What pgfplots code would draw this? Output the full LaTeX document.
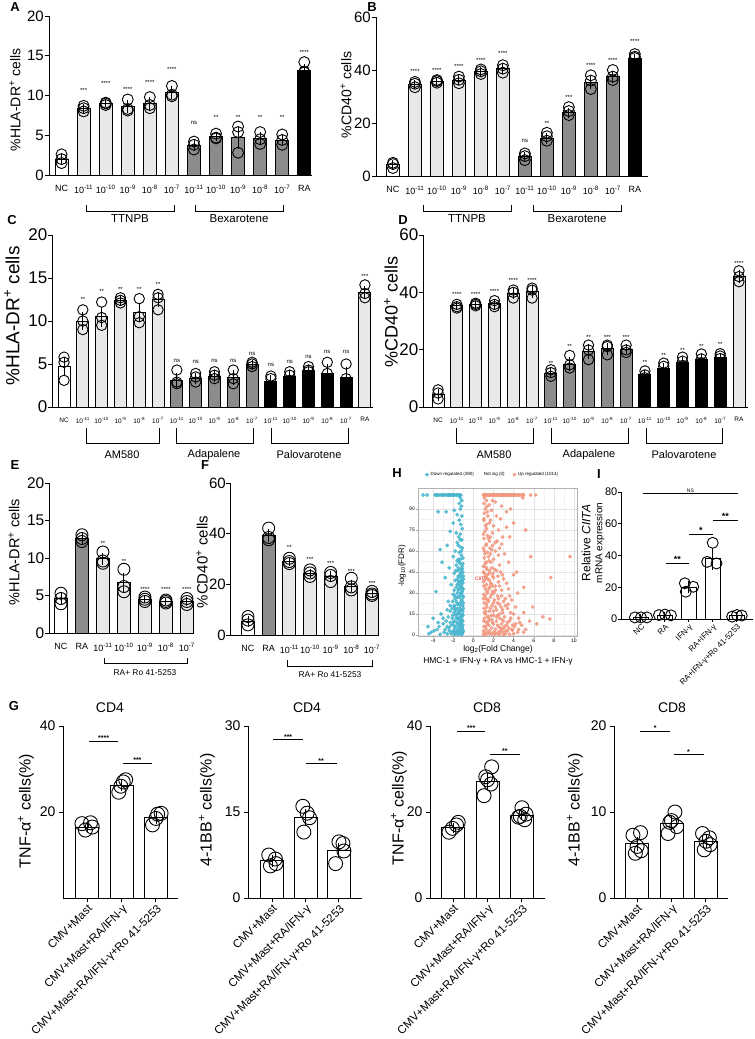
\documentclass[border=0pt]{standalone}
\usepackage{fontspec}
\setmainfont{Liberation Sans}
\usepackage{pgfplots}
\pgfplotsset{compat=1.18}
\definecolor{lg}{RGB}{232,232,232}
\definecolor{mg}{RGB}{140,140,140}
\definecolor{hb}{RGB}{72,182,206}
\definecolor{ho}{RGB}{242,152,128}
\newcommand\fs[1]{\fontsize{#1bp}{#1bp}\selectfont}
\newcommand\ex[1]{10\textsuperscript{-#1}}
\newcommand\st[3]{\node[font=\fs{6}, inner sep=0pt] at (axis cs:#1,#2) {#3};}
\newcommand\brk[4]{\draw[line width=0.9bp] (#1bp,-#3bp) -- (#1bp,-#4bp) -- (#2bp,-#4bp) -- (#2bp,-#3bp);}
\newcommand\lab[4]{\node[font=\fs{#4}, inner sep=0pt] at (#1bp,-#2bp) {#3};}
\newcommand\sig[5]{\draw[line width=0.9bp] (axis cs:#1,#3) -- (axis cs:#2,#3); \node[font=\bfseries\fs{#5}, inner sep=0pt, anchor=south] at (axis cs:{(#1+#2)/2},#3) {#4};}
\pgfplotsset{
  gp/.style={scale only axis, clip=false, axis x line*=bottom, axis y line*=left,
    axis line style={line width=1bp, black, -}, tick style={line width=1bp, black},
    tick align=outside, major tick length=4bp, ymin=0, anchor=south west,
    /pgf/number format/assume math mode=true},
  gbar/.style={ybar, bar shift=0pt, draw=black, line width=0.9bp,
    /pgfplots/error bars/y dir=both, /pgfplots/error bars/y explicit,
    /pgfplots/error bars/error bar style={line width=0.9bp, black},
    /pgfplots/error bars/error mark options={line width=0.9bp, black, mark size=3bp}},
  gdot/.style={only marks, mark=o, mark size=#1, mark options={line width=0.9bp, black}},
}
\begin{document}
\begin{tikzpicture}
\path[use as bounding box] (0,0) rectangle (755bp,-1039bp);
% ---------------- A ----------------
\begin{axis}[gp, at={(49bp,-175bp)}, width=263bp, height=159bp,
  xmin=-0.57, xmax=11.35, ymax=20, ytick={0,5,10,15,20},
  xtick={0,...,11}, xticklabels={NC,\ex{11},\ex{10},\ex9,\ex8,\ex7,\ex{11},\ex{10},\ex9,\ex8,\ex7,RA},
  xtick style={draw=none}, xticklabel style={font=\fs{9}, yshift=-3bp}, yticklabel style={font=\fs{15}, inner sep=1bp}]
\addplot[gbar, fill=white, bar width=13bp] coordinates {(0,2.0) +- (0,0.3)};
\addplot[gbar, fill=lg, bar width=13bp] coordinates {(1,8.4) +- (0,0.2) (2,9.0) +- (0,0.1) (3,8.6) +- (0,0.4) (4,9.0) +- (0,0.4) (5,10.4) +- (0,0.4)};
\addplot[gbar, fill=mg, bar width=13bp] coordinates {(6,3.7) +- (0,0.3) (7,4.8) +- (0,0.2) (8,4.7) +- (0,1.0) (9,4.6) +- (0,0.4) (10,4.4) +- (0,0.4)};
\addplot[gbar, fill=black, bar width=13bp] coordinates {(11,13.2) +- (0,0.4)};
\addplot[gdot=5.5bp] coordinates {(0,2.6)(0,1.5)(0,2.0)(1,8.7)(1,8.0)(1,8.4)(2,9.1)(2,8.8)(2,9.0)(3,9.5)(3,8.1)(3,8.3)(4,9.8)(4,8.4)(4,8.8)(5,11.2)(5,10.1)(5,9.9)(6,4.2)(6,3.8)(6,3.2)(7,5.2)(7,4.7)(7,4.6)(8,6.1)(8,5.4)(8,2.8)(9,5.4)(9,4.5)(9,3.9)(10,5.1)(10,4.4)(10,3.8)(11,14.2)(11,13.0)(11,12.9)};
\st{1}{10.7}{***}\st{2}{11.5}{****}\st{3}{10.8}{****}\st{4}{11.7}{****}\st{5}{13.3}{****}
\st{6}{6.5}{ns}\st{7}{7.3}{**}\st{8}{7.3}{**}\st{9}{7.3}{**}\st{10}{7.3}{**}\st{11}{15.4}{****}
\end{axis}
% ---------------- B ----------------
\begin{axis}[gp, at={(376bp,-176bp)}, width=272bp, height=159bp,
  xmin=-0.77, xmax=11.6, ymax=60, ytick={0,20,40,60},
  xtick={0,...,11}, xticklabels={NC,\ex{11},\ex{10},\ex9,\ex8,\ex7,\ex{11},\ex{10},\ex9,\ex8,\ex7,RA},
  xtick style={draw=none}, xticklabel style={font=\fs{9}, yshift=-3bp}, yticklabel style={font=\fs{15}, inner sep=1bp}]
\addplot[gbar, fill=white, bar width=13bp] coordinates {(0,4.2) +- (0,0.7)};
\addplot[gbar, fill=lg, bar width=13bp] coordinates {(1,34.5) +- (0,0.7) (2,35.6) +- (0,0.4) (3,36.2) +- (0,0.7) (4,39.3) +- (0,0.6) (5,40.4) +- (0,0.8)};
\addplot[gbar, fill=mg, bar width=13bp] coordinates {(6,7.4) +- (0,0.7) (7,14.2) +- (0,0.9) (8,23.8) +- (0,0.9) (9,35.2) +- (0,1.4) (10,37.5) +- (0,1.1)};
\addplot[gbar, fill=black, bar width=13bp] coordinates {(11,44.4) +- (0,0.5)};
\addplot[gdot=5.5bp] coordinates {(0,5.0)(0,3.0)(0,4.5)(1,35.5)(1,33.5)(1,34.8)(2,36.2)(2,35.2)(2,35.8)(3,37.5)(3,35.0)(3,36.3)(4,40.2)(4,38.5)(4,39.5)(5,41.8)(5,39.0)(5,40.5)(6,8.5)(6,6.0)(6,7.5)(7,16.3)(7,13.3)(7,15.0)(8,26.0)(8,23.0)(8,24.5)(9,38.0)(9,32.8)(9,36.0)(10,40.0)(10,36.2)(10,37.5)(11,46.0)(11,45.0)(11,44.5)};
\st{1}{39.5}{****}\st{2}{39.8}{****}\st{3}{41.4}{****}\st{4}{43.6}{****}\st{5}{46.2}{****}
\st{6}{13.4}{ns}\st{7}{19.9}{**}\st{8}{29.8}{***}\st{9}{41.6}{****}\st{10}{43.6}{****}\st{11}{50.8}{****}
\end{axis}
% ---------------- C ----------------
\begin{axis}[gp, at={(52bp,-407bp)}, width=321bp, height=172bp,
  xmin=-0.64, xmax=16.43, ymax=20, ytick={0,5,10,15,20},
  xtick={0,...,16}, xticklabels={NC,\ex{11},\ex{10},\ex9,\ex8,\ex7,\ex{11},\ex{10},\ex9,\ex8,\ex7,\ex{11},\ex{10},\ex9,\ex8,\ex7,RA},
  xtick style={draw=none}, xticklabel style={font=\fs{6.5}, yshift=-3bp}, yticklabel style={font=\fs{17}, inner sep=0.5bp}]
\addplot[gbar, fill=white, bar width=12bp] coordinates {(0,4.7) +- (0,0.8)};
\addplot[gbar, fill=lg, bar width=12bp] coordinates {(1,10.0) +- (0,0.7) (2,10.5) +- (0,0.8) (3,12.4) +- (0,0.2) (4,11.0) +- (0,0.8) (5,12.5) +- (0,0.5)};
\addplot[gbar, fill=mg, bar width=12bp] coordinates {(6,3.1) +- (0,0.5) (7,3.3) +- (0,0.3) (8,3.6) +- (0,0.3) (9,3.4) +- (0,0.5) (10,4.9) +- (0,0.2)};
\addplot[gbar, fill=black, bar width=12bp] coordinates {(11,3.0) +- (0,0.4) (12,3.6) +- (0,0.3) (13,4.3) +- (0,0.2) (14,3.9) +- (0,0.7) (15,3.4) +- (0,0.9)};
\addplot[gbar, fill=lg, bar width=12bp] coordinates {(16,13.3) +- (0,0.4)};
\addplot[gdot=5.2bp] coordinates {(0,5.8)(0,5.2)(0,3.1)(1,11.3)(1,10.0)(1,9.0)(2,12.2)(2,10.4)(2,9.5)(3,12.7)(3,12.1)(3,12.4)(4,12.6)(4,10.5)(4,9.8)(5,13.1)(5,12.7)(5,11.3)(6,4.3)(6,2.9)(6,2.7)(7,3.9)(7,3.5)(7,2.9)(8,4.1)(8,3.7)(8,3.3)(9,4.3)(9,3.3)(9,2.7)(10,5.2)(10,5.0)(10,4.7)(11,3.6)(11,3.3)(11,2.3)(12,4.1)(12,3.7)(12,3.1)(13,4.7)(13,4.3)(13,4.1)(14,5.2)(14,3.9)(14,2.7)(15,5.0)(15,3.3)(15,2.1)(16,14.2)(16,13.2)(16,12.7)};
\st{1}{12.5}{**}\st{2}{13.4}{**}\st{3}{13.7}{**}\st{4}{13.7}{**}\st{5}{14.3}{**}
\st{6}{5.4}{ns}\st{7}{5.2}{ns}\st{8}{5.4}{ns}\st{9}{5.4}{ns}\st{10}{6.2}{ns}
\st{11}{4.9}{ns}\st{12}{5.2}{ns}\st{13}{5.8}{ns}\st{14}{6.4}{ns}\st{15}{6.4}{ns}\st{16}{15.2}{***}
\end{axis}
% ---------------- D ----------------
\begin{axis}[gp, at={(423bp,-407bp)}, width=325bp, height=172bp,
  xmin=-0.8, xmax=16.48, ymax=60, ytick={0,20,40,60},
  xtick={0,...,16}, xticklabels={NC,\ex{11},\ex{10},\ex9,\ex8,\ex7,\ex{11},\ex{10},\ex9,\ex8,\ex7,\ex{11},\ex{10},\ex9,\ex8,\ex7,RA},
  xtick style={draw=none}, xticklabel style={font=\fs{6.5}, yshift=-3bp}, yticklabel style={font=\fs{17}, inner sep=0.5bp}]
\addplot[gbar, fill=white, bar width=12bp] coordinates {(0,4.3) +- (0,1.0)};
\addplot[gbar, fill=lg, bar width=12bp] coordinates {(1,35.3) +- (0,0.4) (2,35.8) +- (0,0.3) (3,36.0) +- (0,0.6) (4,39.5) +- (0,0.8) (5,40.3) +- (0,1.1)};
\addplot[gbar, fill=mg, bar width=12bp] coordinates {(6,11.8) +- (0,0.6) (7,15.0) +- (0,1.3) (8,19.3) +- (0,1.5) (9,20.3) +- (0,1.0) (10,20.2) +- (0,0.8)};
\addplot[gbar, fill=black, bar width=12bp] coordinates {(11,11.3) +- (0,0.7) (12,13.6) +- (0,0.8) (13,15.6) +- (0,0.8) (14,16.6) +- (0,0.7) (15,17.2) +- (0,0.6)};
\addplot[gbar, fill=lg, bar width=12bp] coordinates {(16,45.5) +- (0,1.1)};
\addplot[gdot=5.2bp] coordinates {(0,6.0)(0,4.9)(0,2.8)(1,35.8)(1,35.0)(1,34.5)(2,36.2)(2,35.8)(2,35.3)(3,37.1)(3,35.8)(3,35.0)(4,40.8)(4,40.0)(4,38.0)(5,41.5)(5,40.8)(5,38.0)(6,13.0)(6,12.0)(6,10.7)(7,18.0)(7,14.7)(7,13.6)(8,21.6)(8,19.9)(8,16.5)(9,21.6)(9,21.1)(9,18.2)(10,21.6)(10,19.9)(10,19.0)(11,12.6)(11,11.2)(11,10.2)(12,15.3)(12,14.2)(12,11.5)(13,17.4)(13,16.0)(13,14.5)(14,18.5)(14,16.8)(14,15.5)(15,18.6)(15,17.8)(15,16.9)(16,47.5)(16,45.5)(16,43.7)};
\st{1}{39.1}{****}\st{2}{39.1}{****}\st{3}{40.3}{****}\st{4}{44.0}{****}\st{5}{44.0}{****}
\st{6}{15.3}{**}\st{7}{21.1}{**}\st{8}{24.2}{**}\st{9}{24.2}{***}\st{10}{24.2}{***}
\st{11}{15.5}{**}\st{12}{18.0}{**}\st{13}{19.9}{**}\st{14}{21.1}{**}\st{15}{21.7}{**}\st{16}{50.1}{****}
\end{axis}
% ---------------- E ----------------
\begin{axis}[gp, at={(49bp,-633bp)}, width=144bp, height=150bp,
  xmin=-0.57, xmax=6.29, ymax=20, ytick={0,5,10,15,20},
  xtick={0,...,6}, xticklabels={NC,RA,\ex{11},\ex{10},\ex9,\ex8,\ex7},
  xtick style={draw=none}, xticklabel style={font=\fs{9}, yshift=-3bp}, yticklabel style={font=\fs{15.5}, inner sep=0.5bp}]
\addplot[gbar, fill=white, bar width=13bp] coordinates {(0,4.6) +- (0,0.4)};
\addplot[gbar, fill=mg, bar width=13bp] coordinates {(1,12.6) +- (0,0.3)};
\addplot[gbar, fill=lg, bar width=13bp] coordinates {(2,9.9) +- (0,0.4) (3,6.7) +- (0,0.9) (4,4.5) +- (0,0.15) (5,4.2) +- (0,0.1) (6,4.2) +- (0,0.2)};
\addplot[gdot=6bp] coordinates {(0,5.3)(0,4.6)(0,3.9)(1,13.1)(1,12.6)(1,12.2)(2,10.8)(2,9.6)(2,9.3)(3,8.5)(3,6.2)(3,5.5)(4,4.8)(4,4.5)(4,4.2)(5,4.4)(5,4.2)(5,4.0)(6,4.6)(6,4.2)(6,3.8)};
\st{2}{12.0}{**}\st{3}{9.6}{**}\st{4}{5.8}{****}\st{5}{5.8}{****}\st{6}{5.8}{****}
\end{axis}
% ---------------- F ----------------
\begin{axis}[gp, at={(230bp,-635bp)}, width=148bp, height=152bp,
  xmin=-0.87, xmax=6.29, ymax=60, ytick={0,20,40,60},
  xtick={0,...,6}, xticklabels={NC,RA,\ex{11},\ex{10},\ex9,\ex8,\ex7},
  xtick style={draw=none}, xticklabel style={font=\fs{9}, yshift=-3bp}, yticklabel style={font=\fs{15}, inner sep=0bp}]
\addplot[gbar, fill=white, bar width=13bp] coordinates {(0,5.3) +- (0,1.0)};
\addplot[gbar, fill=mg, bar width=13bp] coordinates {(1,39.2) +- (0,1.4)};
\addplot[gbar, fill=lg, bar width=13bp] coordinates {(2,29.0) +- (0,0.6) (3,24.3) +- (0,0.7) (4,23.0) +- (0,1.0) (5,19.3) +- (0,1.3) (6,16.3) +- (0,0.4)};
\addplot[gdot=6bp] coordinates {(0,7.3)(0,5.9)(0,4.0)(1,42.2)(1,38.5)(1,37.6)(2,30.3)(2,29.0)(2,28.2)(3,25.7)(3,24.5)(3,23.1)(4,24.7)(4,23.5)(4,21.1)(5,22.4)(5,19.0)(5,17.8)(6,17.2)(6,16.2)(6,15.6)};
\st{2}{34.7}{**}\st{3}{30.0}{***}\st{4}{28.1}{***}\st{5}{25.1}{***}\st{6}{20.4}{***}
\end{axis}
% ---------------- H ----------------
\begin{axis}[scale only axis, anchor=south west, at={(418bp,-636bp)}, width=159bp, height=148bp,
  xmin=-5.5, xmax=10.3, ymin=-0.7, ymax=105,
  axis line style={gray!60, line width=0.6bp},
  xtick={-4,-2,...,10}, ytick={0,15,...,90}, minor x tick num=1, minor y tick num=1,
  grid=both, major grid style={gray!22, line width=0.4bp}, minor grid style={gray!10, line width=0.3bp},
  tick style={gray!70, line width=0.4bp}, major tick length=2bp, minor tick length=0pt, tick align=outside,
  tick pos=left, ticklabel style={font=\fs{5}, inner sep=1bp},
  /pgf/number format/assume math mode=true,
  legend columns=3, legend style={at={(0.47,1.06)}, anchor=south, draw=none, fill=none, font=\fs{4.5}, inner sep=0pt, /tikz/every even column/.append style={column sep=6bp}},
  legend cell align=left]
\addplot[only marks, mark=*, mark size=1.7bp, color=hb, mark options={draw=none, fill=hb, fill opacity=0.85}] coordinates {
(-5.0,100)(-4.6,100)(-3.8,100)(-3.6,100)(-3.4,100)(-3.2,100)(-3.0,100)(-2.8,100)(-2.6,100)(-2.45,100)(-2.3,100)(-2.15,100)(-2.0,100)(-1.85,100)(-1.7,100)(-1.55,100)(-1.4,100)(-1.25,100)
(-2.55,100)(-2.35,100)(-2.05,100)(-1.9,100)(-1.6,100)(-1.45,100)(-1.3,100)(-3.7,100)(-3.1,100)
(-1.3,98)(-1.15,96)(-1.4,94)(-1.2,92)(-3.5,88)(-2.7,88)(-1.9,89)(-1.3,90)(-1.6,86)(-1.15,85)(-1.4,82)(-2.0,80)(-1.25,79)(-1.1,76)(-2.3,74)(-1.7,73)(-1.3,72)(-1.45,70)(-1.15,68)(-1.6,66)(-2.6,64)(-1.3,63)(-1.1,62)(-3.3,61)(-1.8,60)(-1.4,59)(-1.2,57)(-2.0,56)(-1.05,55)(-1.5,54)(-3.1,52)(-1.3,51)(-1.7,50)(-1.1,49)(-2.4,48)(-1.25,47)(-1.55,46)(-1.05,45)(-1.9,44)(-1.35,43)(-1.15,42)(-2.8,41)(-1.6,40)(-1.2,39)(-1.45,38)(-1.05,37)(-2.2,36)(-1.3,35)(-1.7,34)(-1.1,33)(-1.5,32)(-3.7,31)(-1.25,30)(-2.0,29)(-1.05,28)(-1.4,27)(-1.8,26)(-1.15,25)(-2.5,24)(-1.3,23)(-1.6,22)(-1.05,21)(-1.9,20)(-1.35,19)(-1.15,18)(-2.3,17)(-1.5,16)(-3.2,15)(-1.1,15)(-1.75,14)(-1.25,13)(-4.0,12)(-2.1,12)(-1.45,11)(-1.05,10)(-2.7,10)(-1.65,9)(-1.2,8)(-3.0,8)(-1.95,7)(-1.4,6)(-1.1,5)(-2.4,5)(-3.6,4)(-1.6,4)(-1.25,3)(-2.0,3)(-4.2,2)(-2.9,2)(-1.8,2)(-1.35,1.5)(-1.1,1)(-2.2,1)(-1.5,0.5)(-3.3,0.5)(-2.6,0.8)(-1.9,0.3)(-1.2,0.2)(-4.4,1)(-3.9,3)(-2.3,9)(-1.55,27)(-1.35,33)(-1.2,44)(-1.6,53)(-1.3,41)(-1.1,38)(-1.25,21)(-1.45,17)(-1.7,12)(-1.15,11)(-2.5,13)(-1.8,18)(-1.05,14)(-1.9,10)(-1.35,7)(-1.5,3)(-1.05,2)
(-1.0,3)(-1.15,6)(-1.3,9)(-1.45,12)(-1.6,15)(-1.75,18)(-1.9,21)(-2.05,24)(-1.0,27)(-1.2,30)(-1.4,33)(-1.6,36)(-1.8,39)(-1.0,42)(-1.25,45)(-1.5,48)(-1.05,51)(-1.3,54)(-2.1,2)(-1.7,1)(-2.4,3)(-2.6,6)(-2.0,9)(-1.55,8)(-1.25,5)(-1.05,7)(-1.85,5)(-2.2,7)(-1.65,2.5)(-1.35,4)(-1.15,13)(-1.4,15)(-1.6,19)(-1.9,16)(-2.1,19)(-1.3,17)(-1.05,17)(-1.2,25)(-1.5,22)(-1.7,24)(-1.35,28)(-1.6,30)(-1.9,32)(-1.1,31)(-1.3,38)(-1.5,42)(-1.75,46)(-1.1,47)(-1.4,52)(-1.2,60)(-1.5,64)(-1.3,68)(-3.4,6)(-2.8,4)(-3.0,12)(-2.3,21)(-2.6,18)(-4.5,6)(-3.5,9)(-2.05,14)(-1.0,19)(-1.0,23)(-1.0,33)(-1.0,40)(-1.2,35)(-1.45,36)(-1.85,28)(-1.55,12)(-1.25,10)(-1.75,6)
};
\addlegendentry{Down regulated (490)}
\addlegendimage{empty legend}
\addlegendentry{Not sig (0)}
\addplot[only marks, mark=*, mark size=1.7bp, color=ho, mark options={draw=none, fill=ho, fill opacity=0.85}] coordinates {
(1.0,100)(1.15,100)(1.3,100)(1.45,100)(1.6,100)(1.75,100)(1.9,100)(2.05,100)(2.2,100)(2.35,100)(2.5,100)(2.7,100)(2.9,100)(3.1,100)(3.3,100)(3.5,100)(3.7,100)(3.9,100)(4.1,100)(4.35,100)(4.6,100)(4.9,100)(5.7,100)(6.2,100)
(1.08,100)(1.22,100)(1.38,100)(1.53,100)(1.68,100)(1.83,100)(1.98,100)(2.13,100)(2.28,100)(2.43,100)(2.6,100)(2.8,100)(3.0,100)(3.2,100)(3.4,100)(3.6,100)(3.8,100)(4.0,100)(4.2,100)(4.5,100)(4.75,100)(5.0,100)
(1.1,98)(1.3,96)(1.05,94)(1.6,93)(2.2,95)(2.8,92)(1.2,90)(1.8,89)(3.3,88)(4.9,98)(1.1,87)(1.45,85)(2.3,85)(1.05,83)(1.7,82)(4.0,80)(1.3,79)(3.3,77)(2.5,75)(5.2,75)(1.15,74)(1.9,73)(1.4,71)(2.9,70)(1.05,69)(1.6,67)(2.2,66)(2.8,65)(1.25,64)(1.0,62)(1.8,61)(3.1,58)(1.4,59)(2.5,57)(5.7,56)(9.6,56)(1.1,55)(2.0,54)(1.55,53)(3.5,52)(1.2,51)(2.6,50)(1.05,49)(1.8,48)(1.35,47)(2.3,46)(4.3,45)(1.0,45)(1.6,44)(4.0,43)(2.9,43)(1.25,42)(2.0,41)(7.7,41)(1.45,40)(1.1,39)(2.5,38)(1.75,37)(3.3,37)(1.3,36)(1.05,35)(2.2,35)(5.0,34)(1.6,34)(1.2,33)(2.8,32)(1.9,31)(1.4,30)(4.4,30)(1.05,29)(3.6,28)(2.4,28)(1.7,27)(1.25,26)(2.1,25)(3.0,24)(1.5,24)(1.1,23)(2.6,22)(1.85,21)(1.35,20)(5.9,20)(3.4,19)(1.05,19)(2.3,18)(1.6,17)(2.9,16)(5.0,16)(1.2,15)(4.0,15)(2.0,14)(1.4,13)(3.1,13)(6.9,13)(2.6,12)(7.6,11.5)(1.1,12)(1.8,11)(3.6,10)(2.3,10)(1.3,9)(4.6,9)(2.0,8)(2.8,8)(1.55,7)(3.3,7)(1.05,6)(2.5,6)(4.1,6)(1.8,5)(3.0,5)(1.3,4)(2.2,4)(3.8,4)(1.6,3)(2.7,3)(3.4,3)(1.1,2)(2.0,2)(2.9,2)(4.4,2)(1.4,1.5)(2.4,1)(3.2,1)(1.8,0.8)(1.0,0.5)(2.6,0.4)(3.6,0.6)(1.2,0.2)(2.1,0.3)(3.0,0.2)(4.0,1)(1.5,10)(1.9,35)(1.15,58)(2.2,60)(1.7,70)(1.3,76)(3.9,3.5)(2.4,14)(2.75,20)(3.2,26)(1.95,44)(1.65,62)(2.45,42)(3.7,16)(4.8,7)(1.25,17)(2.85,11)(1.45,25)(2.05,30)(1.05,10)(3.45,22)(1.75,52)(2.35,67)
(1.0,3)(1.2,6)(1.4,8)(1.6,11)(1.8,14)(2.0,17)(2.2,20)(2.4,23)(1.0,26)(1.15,28)(1.35,31)(1.55,33)(1.75,36)(1.0,38)(1.2,41)(1.4,43)(1.6,46)(1.0,49)(1.25,52)(1.5,56)(1.1,60)(1.3,65)(1.5,69)(1.0,72)(1.2,78)(1.05,82)(1.4,88)(2.5,2)(2.8,4)(3.1,6)(3.4,9)(3.7,12)(2.6,15)(2.9,18)(3.2,21)(2.0,23)(2.5,26)(2.8,28)(1.8,29)(2.2,32)(2.6,35)(1.6,39)(1.9,42)(2.1,47)(2.7,45)(3.0,40)(3.5,33)(3.8,25)(4.2,20)(4.5,12)(4.2,8)(5.2,4)(5.6,10)(6.3,8)(3.9,7)(3.5,5)(3.2,3)(2.4,7)(1.9,9)(1.5,13)(1.1,16)(2.3,13)(1.7,19)(1.3,22)(3.0,10)(2.7,5)(2.2,1.5)(1.6,1)(4.5,4)(5.0,2)(1.1,44)(1.3,48)(1.7,58)(1.9,64)(2.6,62)(3.6,70)(2.0,78)(1.6,80)(2.7,83)(3.7,90)(1.35,92)(1.9,96)
};
\addlegendentry{Up regulated (1014)}
\node[font=\fs{5}, text=red, inner sep=0pt] at (axis cs:0.78,40) {CIITA};
\end{axis}
% ---------------- I ----------------
\begin{axis}[gp, at={(621bp,-619bp)}, width=132bp, height=127bp,
  xmin=-0.83, xmax=4.67, ymax=80, ytick={0,20,40,60,80},
  xtick={0,...,4}, xticklabels={NC,RA,IFN-γ,RA+IFN-γ,RA+IFN-γ+Ro 41-5253},
  major tick length=3bp,
  xticklabel style={rotate=45, anchor=north east, font=\fs{8}, inner sep=1bp}, yticklabel style={font=\fs{11}, inner sep=0.5bp}]
\addplot[gbar, fill=white, bar width=15bp] coordinates {(0,1.0) +- (0,0.1) (1,2.5) +- (0,0.3) (2,20.0) +- (0,1.8) (3,38.0) +- (0,5.0) (4,2.0) +- (0,0.5)};
\addplot[gdot=5.5bp] coordinates {(-0.25,1.0)(0,1.0)(0.25,1.0)(0.75,2.5)(1,2.8)(1.25,2.3)(1.83,22.5)(2.18,20.3)(1.87,17.2)(2.99,48)(2.76,36)(3.15,35)(3.8,1.5)(4.0,2.5)(4.2,2.2)};
\sig{0.08}{4.04}{79.4}{\mdseries\fs{5}NS}{5}
\sig{1.04}{2.0}{35.3}{**}{9}
\sig{2.0}{3.0}{53.5}{*}{9}
\sig{3.0}{4.04}{62.4}{**}{9}
\end{axis}
% ---------------- G1 ----------------
\begin{axis}[gp, at={(63bp,-898bp)}, width=115bp, height=172bp,
  xmin=-0.7, xmax=2.64, ymax=40, ytick={20,40},
  xtick={0,1,2}, xticklabels={CMV+Mast,CMV+Mast+RA/IFN-γ,CMV+Mast+RA/IFN-γ+Ro 41-5253},
  xticklabel style={rotate=45, anchor=north east, font=\fs{11.5}, inner sep=1bp}, yticklabel style={font=\fs{14}}]
\addplot[gbar, fill=white, bar width=23bp] coordinates {(0,16.5) +- (0,0.4) (1,26.2) +- (0,0.6) (2,18.7) +- (0,0.7)};
\addplot[gdot=7bp] coordinates {(-0.15,17.3)(0.1,17.5)(-0.05,15.8)(0.15,16.5)(0.92,24.6)(1.05,27.0)(1.12,27.5)(0.98,26.0)(1.9,17.0)(2.05,19.5)(2.15,19.7)(2.0,18.5)};
\sig{0.06}{0.9}{36.5}{****}{7}
\sig{1.04}{1.88}{31.4}{***}{7}
\end{axis}
% ---------------- G2 ----------------
\begin{axis}[gp, at={(248bp,-898bp)}, width=114bp, height=172bp,
  xmin=-0.72, xmax=2.69, ymax=30, ytick={0,15,30},
  xtick={0,1,2}, xticklabels={CMV+Mast,CMV+Mast+RA/IFN-γ,CMV+Mast+RA/IFN-γ+Ro 41-5253},
  xticklabel style={rotate=45, anchor=north east, font=\fs{11.5}, inner sep=1bp}, yticklabel style={font=\fs{14}}]
\addplot[gbar, fill=white, bar width=23bp] coordinates {(0,6.5) +- (0,0.5) (1,14.0) +- (0,1.0) (2,8.3) +- (0,0.8)};
\addplot[gdot=7bp] coordinates {(-0.1,7.5)(0.1,6.8)(-0.05,5.6)(0.12,6.0)(0.92,16.0)(1.05,14.8)(1.12,14.0)(0.95,11.5)(1.9,6.0)(2.0,9.8)(2.12,9.5)(2.15,8.2)};
\sig{0.03}{0.93}{27.6}{***}{7}
\sig{1.0}{1.94}{23.5}{**}{7}
\end{axis}
% ---------------- G3 ----------------
\begin{axis}[gp, at={(430bp,-898bp)}, width=115bp, height=172bp,
  xmin=-0.67, xmax=2.67, ymax=40, ytick={0,20,40},
  xtick={0,1,2}, xticklabels={CMV+Mast,CMV+Mast+RA/IFN-γ,CMV+Mast+RA/IFN-γ+Ro 41-5253},
  xticklabel style={rotate=45, anchor=north east, font=\fs{11.5}, inner sep=1bp}, yticklabel style={font=\fs{14}}]
\addplot[gbar, fill=white, bar width=23bp] coordinates {(0,16.3) +- (0,0.5) (1,27.2) +- (0,1.2) (2,19.3) +- (0,0.5)};
\addplot[gdot=7bp] coordinates {(-0.12,15.3)(0.1,17.0)(0.15,17.6)(-0.02,16.2)(0.9,23.8)(0.95,28.2)(1.12,30.5)(1.1,26.5)(1.0,27.5)(1.9,18.8)(2.0,21.0)(2.12,19.5)(2.08,18.2)(1.95,19.0)};
\sig{0.12}{0.93}{38.8}{***}{7}
\sig{1.07}{1.94}{33.5}{**}{7}
\end{axis}
% ---------------- G4 ----------------
\begin{axis}[gp, at={(614bp,-898bp)}, width=114bp, height=172bp,
  xmin=-0.67, xmax=2.64, ymax=20, ytick={0,10,20},
  xtick={0,1,2}, xticklabels={CMV+Mast,CMV+Mast+RA/IFN-γ,CMV+Mast+RA/IFN-γ+Ro 41-5253},
  xticklabel style={rotate=45, anchor=north east, font=\fs{11.5}, inner sep=1bp}, yticklabel style={font=\fs{14}}]
\addplot[gbar, fill=white, bar width=23bp] coordinates {(0,6.3) +- (0,0.5) (1,8.7) +- (0,0.5) (2,6.6) +- (0,0.4)};
\addplot[gdot=7bp] coordinates {(-0.12,7.3)(0.1,7.6)(-0.05,5.2)(0.12,5.5)(0.0,6.0)(0.9,7.5)(1.0,9.0)(1.1,10.0)(1.15,8.3)(0.95,8.8)(1.9,7.5)(2.1,7.0)(1.95,5.6)(2.12,6.2)(2.0,6.6)};
\sig{0.09}{0.96}{19.4}{*}{7}
\sig{1.06}{1.93}{16.7}{*}{7}
\end{axis}
% ---------------- annotations ----------------
\brk{86}{174}{205}{211}\brk{195}{283}{205}{211}
\lab{130}{219}{TTNPB}{11.5}\lab{239}{219}{Bexarotene}{11.5}
\brk{423}{511}{205}{211}\brk{533}{621}{205}{211}
\lab{467}{219}{TTNPB}{11.5}\lab{577}{219}{Bexarotene}{11.5}
\brk{86}{159}{428}{443}\brk{176}{253}{428}{443}\brk{271}{348}{428}{443}
\lab{122}{455}{AM580}{11}\lab{214}{455}{Adapalene}{11}\lab{309}{455}{Palovarotene}{11}
\brk{456}{533}{428}{443}\brk{551}{628}{428}{443}\brk{646}{722}{428}{443}
\lab{494}{455}{AM580}{11}\lab{589}{455}{Adapalene}{11}\lab{684}{455}{Palovarotene}{11}
\brk{104}{187}{658}{663}\lab{145}{673}{RA+ Ro 41-5253}{8.4}
\brk{287}{372}{660}{666}\lab{330}{675}{RA+ Ro 41-5253}{8.4}
% y labels
\node[rotate=90, font=\fs{14}] at (15bp,-100bp) {\%HLA-DR\textsuperscript{+} cells};
\node[rotate=90, font=\fs{14}] at (346bp,-95bp) {\%CD40\textsuperscript{+} cells};
\node[rotate=90, font=\fs{19}] at (12bp,-316bp) {\%HLA-DR\textsuperscript{+} cells};
\node[rotate=90, font=\fs{18}] at (391bp,-312bp) {\%CD40\textsuperscript{+} cells};
\node[rotate=90, font=\fs{14.5}] at (14bp,-552bp) {\%HLA-DR\textsuperscript{+} cells};
\node[rotate=90, font=\fs{15}] at (202bp,-562bp) {\%CD40\textsuperscript{+} cells};
\node[rotate=90, font=\fs{8}] at (402bp,-566bp) {-log\textsubscript{10}(FDR)};
\node[font=\fs{8.5}] at (498bp,-649bp) {log\textsubscript{2}(Fold Change)};
\node[font=\fs{8.5}] at (498bp,-661bp) {HMC-1 + IFN-γ + RA vs HMC-1 + IFN-γ};
\node[rotate=90, align=center, inner sep=0pt] at (593bp,-543bp) {\fontsize{12bp}{11bp}\selectfont Relative \textit{CIITA}\\mRNA expression};
\node[rotate=90, font=\fs{16}] at (26bp,-811bp) {TNF-α\textsuperscript{+} cells(\%)};
\node[rotate=90, font=\fs{16}] at (207bp,-810bp) {4-1BB\textsuperscript{+} cells(\%)};
\node[rotate=90, font=\fs{16}] at (399bp,-808bp) {TNF-α\textsuperscript{+} cells(\%)};
\node[rotate=90, font=\fs{16}] at (575bp,-810bp) {4-1BB\textsuperscript{+} cells(\%)};
% titles
\lab{110}{708}{CD4}{14}\lab{307}{708}{CD4}{14}\lab{487}{708}{CD8}{14}\lab{672}{708}{CD8}{14}
% panel letters
\node[font=\bfseries\fs{13}] at (15bp,-7bp) {A};
\node[font=\bfseries\fs{13}] at (372bp,-7bp) {B};
\node[font=\bfseries\fs{13}] at (12bp,-220bp) {C};
\node[font=\bfseries\fs{13}] at (403bp,-220bp) {D};
\node[font=\bfseries\fs{13}] at (15bp,-465bp) {E};
\node[font=\bfseries\fs{13}] at (205bp,-465bp) {F};
\node[font=\bfseries\fs{13}] at (397bp,-473bp) {H};
\node[font=\bfseries\fs{13}] at (599bp,-474bp) {I};
\node[font=\bfseries\fs{13}] at (14bp,-706bp) {G};
\end{tikzpicture}
\end{document}
